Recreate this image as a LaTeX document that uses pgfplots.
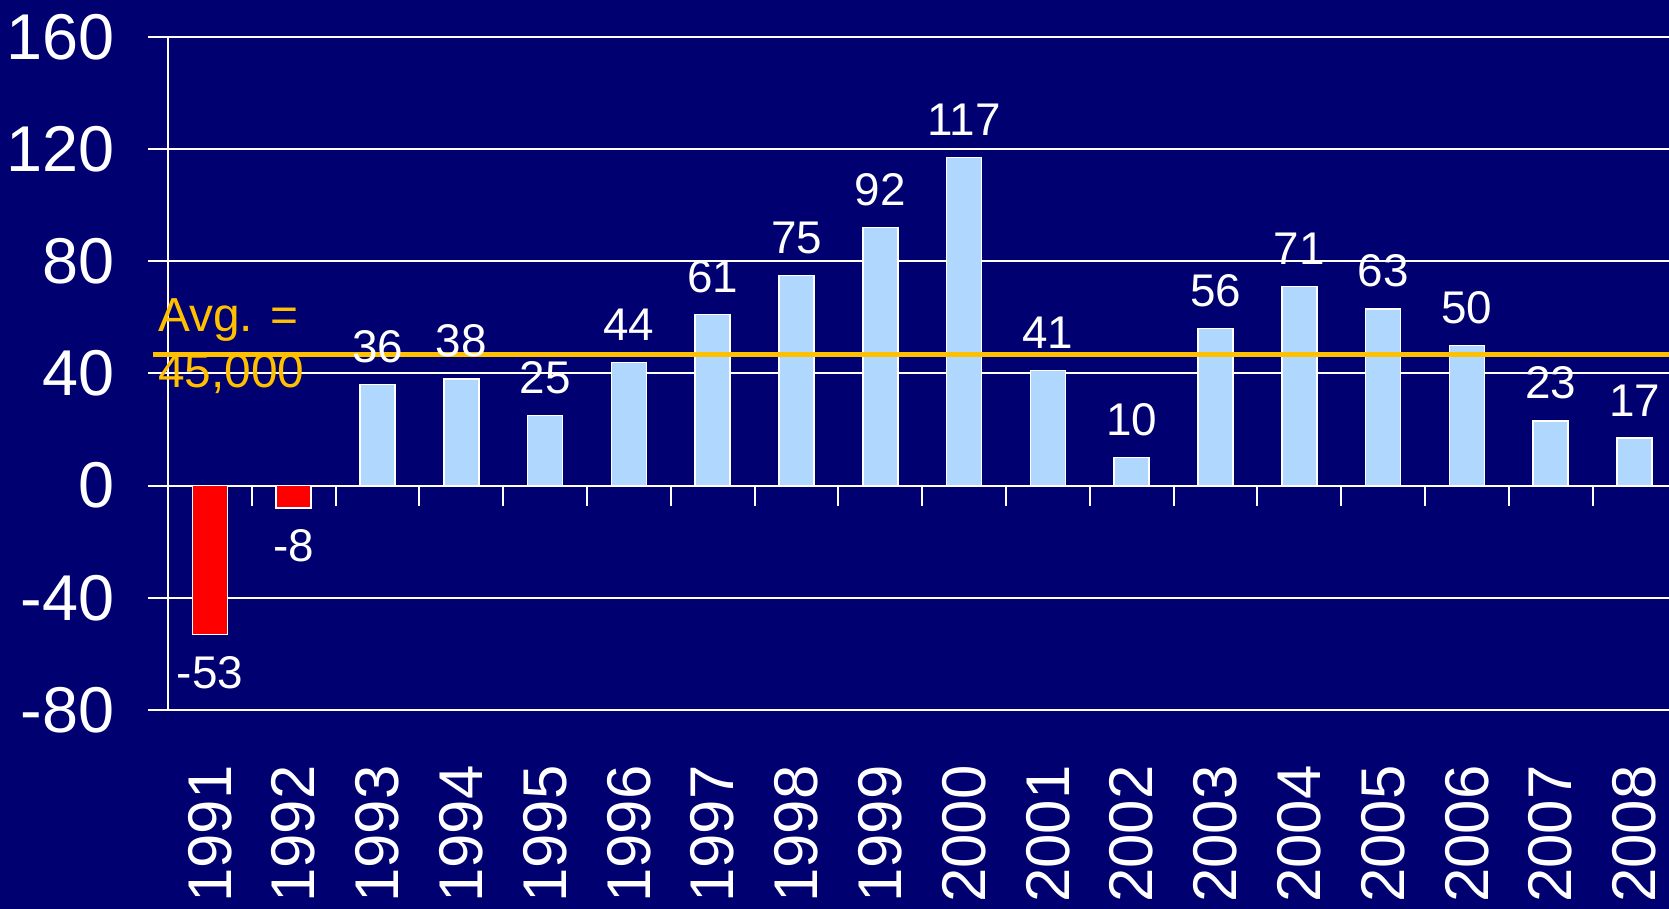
\documentclass[border=0pt]{standalone}
\usepackage{fontspec}
\setmainfont{Liberation Sans}
\usepackage{pgfplots}
\pgfplotsset{compat=1.18}
\definecolor{navy}{RGB}{0,0,112}
\definecolor{barblue}{RGB}{176,216,255}
\definecolor{avgorange}{RGB}{255,192,0}

\begin{document}
\begin{tikzpicture}
\fill[navy] (0,0) rectangle (1669bp,909bp);
\useasboundingbox (0,0) rectangle (1669bp,909bp);
\clip (0,0) rectangle (1669bp,909bp);
\begin{axis}[
  at={(168bp,199bp)}, anchor=south west,
  scale only axis, width=1501bp, height=673bp,
  xmin=-0.5, xmax=17.412, ymin=-80, ymax=160,
  ytick={-80,-40,0,40,80,120,160},
  yticklabels={-80,-40,0,40,80,120,160},
  xtick={0,...,17},
  xticklabels={1991,1992,1993,1994,1995,1996,1997,1998,1999,2000,2001,2002,2003,2004,2005,2006,2007,2008},
  axis lines*=left,
  axis line style={white, line width=2bp, -},
  ymajorgrids, grid style={white, line width=2bp},
  tick align=outside, major tick length=20bp,
  ytick style={white, line width=2bp},
  xtick style={draw=none},
  ticklabel style={text=white},
  xticklabel style={rotate=90, anchor=east, xshift=-32bp, font=\fontsize{62}{62}\selectfont},
  yticklabel style={xshift=-30bp, font=\fontsize{65}{65}\selectfont},
  ybar, bar width=35bp,
  clip=false,
  /pgf/number format/assume math mode=true,
  every node near coord/.append style={text=white, font=\fontsize{46}{46}\selectfont, inner ysep=21bp, inner xsep=0pt},
]
% negative years
\addplot[fill=red, draw=white, line width=1.5bp, bar shift=0pt, nodes near coords]
  coordinates {(0,-53) (1,-8)};
% positive years
\addplot[fill=barblue, draw=white, line width=1.5bp, bar shift=0pt, nodes near coords]
  coordinates {(2,36) (3,38) (4,25) (5,44) (6,61) (7,75) (8,92) (9,117) (10,41)
               (11,10) (12,56) (13,71) (14,63) (15,50) (16,23) (17,17)};
% category separators on the zero line
\pgfplotsinvokeforeach{0.5,1.5,...,16.5}{
  \draw[white, line width=2bp] (axis cs:#1,0) -- ([yshift=-20bp]axis cs:#1,0);
}
\node[anchor=base west, inner sep=0pt, text=avgorange, font=\fontsize{48}{48}\selectfont]
  at (axis cs:-0.619,54.9) {Avg. =};
\node[anchor=base west, inner sep=0pt, text=avgorange, font=\fontsize{48}{48}\selectfont]
  at (axis cs:-0.619,34.9) {45,000};
% average line
\addplot[sharp plot, avgorange, line width=5bp, mark=none]
  coordinates {(-0.68,46.7) (17.6,46.7)};
\end{axis}
\end{tikzpicture}
\end{document}
